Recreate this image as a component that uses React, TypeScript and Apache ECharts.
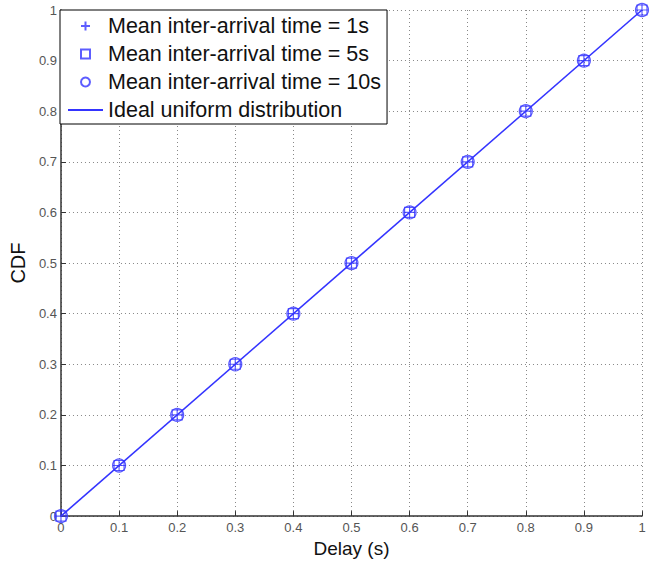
import React, { useEffect, useRef } from "react";
import * as echarts from "echarts";

const delays = [0, 0.1, 0.2, 0.3, 0.4, 0.5, 0.6, 0.7, 0.8, 0.9, 1];
const cdf1s = [0, 0.1, 0.2, 0.3, 0.4, 0.5, 0.6, 0.7, 0.8, 0.9, 1];
const cdf5s = [0, 0.1, 0.2, 0.3, 0.4, 0.5, 0.6, 0.7, 0.8, 0.9, 1];
const cdf10s = [0, 0.1, 0.2, 0.3, 0.4, 0.5, 0.6, 0.7, 0.8, 0.9, 1];
const idealX = [0, 1];
const idealY = [0, 1];

const seriesNames = [
  "Mean inter-arrival time = 1s",
  "Mean inter-arrival time = 5s",
  "Mean inter-arrival time = 10s",
  "Ideal uniform distribution",
];

const BLUE = "#3434ff";
const FONT = "Liberation Sans, Arial, sans-serif";
const PLUS = "path://M0,5L10,5M5,0L5,10";
const SQUARE = "path://M0,0L10,0L10,10L0,10Z";
const BAR = "path://M0,0L35,0L35,2L0,2Z";

export default function App() {
  const ref = useRef<HTMLDivElement>(null);
  useEffect(() => {
    document.body.style.margin = "0";
    if (!ref.current) return;
    const chart = echarts.init(ref.current, null, { renderer: "svg" });
    const pair = (xs: number[], ys: number[]) => xs.map((x, i) => [x, ys[i]]);
    const markerStyle = { color: "transparent", borderColor: BLUE, borderWidth: 1.2 };
    chart.setOption({
      animation: false,
      backgroundColor: "#fff",
      textStyle: { fontFamily: FONT },
      grid: { left: 60, right: 15, top: 10, bottom: 45 },
      legend: {
        orient: "vertical",
        left: 60,
        top: 10,
        padding: [5, 6, 3, 8],
        itemGap: 6,
        itemWidth: 35,
        itemHeight: 9,
        symbolKeepAspect: true,
        borderColor: "#000",
        borderWidth: 1,
        backgroundColor: "#fff",
        textStyle: { fontSize: 21.5, color: "#111", fontFamily: FONT, lineHeight: 21 },
        data: [
          { name: seriesNames[0], icon: PLUS },
          { name: seriesNames[1], icon: SQUARE },
          { name: seriesNames[2], icon: "circle" },
          { name: seriesNames[3], icon: BAR, itemStyle: { color: BLUE, borderWidth: 0 } },
        ],
      },
      xAxis: {
        type: "value",
        min: 0,
        max: 1,
        interval: 0.1,
        name: "Delay (s)",
        nameLocation: "middle",
        nameGap: 22,
        nameTextStyle: { fontSize: 19, color: "#111", fontFamily: FONT },
        axisLine: { lineStyle: { color: "#333", width: 1.5 } },
        axisTick: { inside: true, length: 5, lineStyle: { color: "#333" } },
        axisLabel: { fontSize: 13, color: "#555", margin: 5, fontFamily: FONT },
        splitLine: { show: true, lineStyle: { type: [1, 3], color: "#888", width: 1 } },
      },
      yAxis: {
        type: "value",
        min: 0,
        max: 1,
        interval: 0.1,
        name: "CDF",
        nameLocation: "middle",
        nameGap: 26,
        nameTextStyle: { fontSize: 20, color: "#111", fontFamily: FONT },
        axisLine: { show: true, lineStyle: { color: "#333", width: 1.5 } },
        axisTick: { show: true, inside: true, length: 5, lineStyle: { color: "#333" } },
        axisLabel: { fontSize: 13, color: "#555", margin: 4, fontFamily: FONT },
        splitLine: { show: true, lineStyle: { type: [1, 3], color: "#888", width: 1 } },
      },
      series: [
        {
          name: seriesNames[0],
          type: "scatter",
          symbol: PLUS,
          symbolSize: 12,
          itemStyle: markerStyle,
          data: pair(delays, cdf1s),
          z: 5,
        },
        {
          name: seriesNames[1],
          type: "scatter",
          symbol: "rect",
          symbolSize: 10,
          itemStyle: markerStyle,
          data: pair(delays, cdf5s),
          z: 5,
        },
        {
          name: seriesNames[2],
          type: "scatter",
          symbol: "circle",
          symbolSize: 13,
          itemStyle: markerStyle,
          data: pair(delays, cdf10s),
          z: 5,
        },
        {
          name: seriesNames[3],
          type: "line",
          symbol: "none",
          showSymbol: false,
          lineStyle: { color: BLUE, width: 1.6 },
          itemStyle: { color: BLUE },
          data: pair(idealX, idealY),
          z: 4,
        },
      ],
    });
    return () => chart.dispose();
  }, []);
  return <div ref={ref} style={{ width: 657, height: 563 }} />;
}
